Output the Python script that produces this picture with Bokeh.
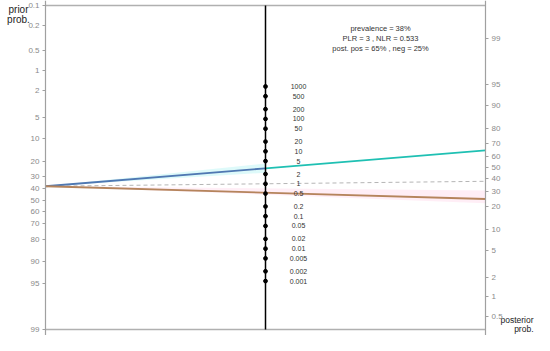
import numpy as np
from bokeh.plotting import figure
from bokeh.models import Range1d, LinearAxis, FixedTicker
from bokeh.core.properties import value
from bokeh.embed import file_html
from bokeh.resources import INLINE

# ---- data ----
prevalence = 0.38
plr = 3.0
nlr = 0.533
plr_ci = [2.2, 4.2]
nlr_ci = [0.46, 0.72]
prior_ticks = [0.1, 0.2, 0.5, 1, 2, 5, 10, 20, 30, 40, 50, 60, 70, 80, 90, 95, 99]
post_ticks = [0.5, 1, 2, 5, 10, 20, 30, 40, 50, 60, 70, 80, 90, 95, 99]
lr_ticks = [1000, 500, 200, 100, 50, 20, 10, 5, 2, 1, 0.5, 0.2, 0.1, 0.05, 0.02, 0.01, 0.005, 0.002, 0.001]
lr_labels = ["1000", "500", "200", "100", "50", "20", "10", "5", "2", "1", "0.5", "0.2", "0.1",
             "0.05", "0.02", "0.01", "0.005", "0.002", "0.001"]
prior_min, prior_max = 0.1, 99

FONT = "Liberation Sans"

def logit(p):
    p = np.asarray(p, dtype=float)
    return np.log(p / (1 - p))

c = (logit(prior_min / 100) + logit(prior_max / 100)) / 2.0
H = (logit(prior_max / 100) - logit(prior_min / 100)) / 2.0

def y_left(p_pct):
    return -logit(np.asarray(p_pct) / 100.0) + c

def y_right(p_pct):
    return logit(np.asarray(p_pct) / 100.0)

def y_mid(lr):
    return (np.log(np.asarray(lr, dtype=float)) + c) / 2.0

def post(prior, lr):
    o = prior / (1 - prior) * lr
    return o / (1 + o)

post_pos = post(prevalence, plr)
post_neg = post(prevalence, nlr)

# ---- layout (pixels) ----
W, HGT = 534, 335
X0, X1 = 45, 485          # left / right axis positions
Y0, Y1 = 5, 329           # top / bottom of the scale
kx = 1.0 / (X1 - X0)
ky = 2 * H / (Y1 - Y0)

def px_x(px):
    return (px - X0) * kx

def px_y(py):
    return H - (py - Y0) * ky

p = figure(width=W, height=HGT, output_backend="svg", toolbar_location=None,
           x_range=Range1d(px_x(0), px_x(W)), y_range=Range1d(px_y(HGT), px_y(0)),
           x_axis_type=None, y_axis_type=None,
           min_border_left=0, min_border_right=0, min_border_top=0, min_border_bottom=0)
p.grid.visible = False
p.outline_line_color = None
p.background_fill_color = "white"

yl_ticks = [round(float(v), 6) for v in y_left(prior_ticks)]
yr_ticks = [round(float(v), 6) for v in y_right(post_ticks)]

def fmt(v):
    return ("%g" % v)

laxis = LinearAxis(ticker=FixedTicker(ticks=yl_ticks), fixed_location=0,
                   major_label_overrides={t: fmt(v) for t, v in zip(yl_ticks, prior_ticks)})
raxis = LinearAxis(ticker=FixedTicker(ticks=yr_ticks), fixed_location=1,
                   major_label_overrides={t: fmt(v) for t, v in zip(yr_ticks, post_ticks)})
for ax in (laxis, raxis):
    ax.axis_line_color = "#a0a0a0"
    ax.axis_line_width = 1.2
    ax.major_tick_line_color = "#a0a0a0"
    ax.major_tick_in = 0
    ax.major_tick_out = 3
    ax.minor_tick_line_color = None
    ax.major_label_text_font = FONT
    ax.major_label_text_font_size = "8px"
    ax.major_label_text_color = "#8a8a8a"
    ax.major_label_standoff = 3
p.add_layout(laxis, "left")
p.add_layout(raxis, "right")

# frame top / bottom lines
p.segment(x0=[0, 0], y0=[H, -H], x1=[1, 1], y1=[H, -H], line_color="#b0b0b0", line_width=1.5)

yp = float(y_left(prevalence * 100))

# light bands
p.patch(x=[0, 0.5, 0.5], y=[yp, float(y_mid(plr_ci[1])), float(y_mid(plr_ci[0]))],
        fill_color="#c8f6f6", fill_alpha=0.6, line_color=None)
p.patch(x=[0, 1, 1], y=[yp, float(y_right(100 * post(prevalence, nlr_ci[1]))),
                        float(y_right(100 * post(prevalence, nlr_ci[0])))],
        fill_color="#ffe3f0", fill_alpha=0.6, line_color=None)

# LR = 1 reference line
p.line(x=[0, 1], y=[yp, float(y_right(prevalence * 100))], line_color="#b5b5b5",
       line_dash="4 3", line_width=1)

# positive & negative lines
ymp = float(y_mid(plr))
p.line(x=[0, 0.5], y=[yp, ymp], line_color="#4f78b2", line_width=1.8)
p.line(x=[0.5, 1], y=[ymp, float(y_right(post_pos * 100))], line_color="#1fc0b3", line_width=1.8)
p.line(x=[0, 1], y=[yp, float(y_right(post_neg * 100))], line_color="#b5845c", line_width=1.8)

# center LR scale
p.segment(x0=[0.5], y0=[-H], x1=[0.5], y1=[H], line_color="black", line_width=1.5)
ylr = [float(v) for v in y_mid(lr_ticks)]
p.scatter(x=[0.5] * len(lr_ticks), y=ylr, size=3.8, color="black")
p.text(x=[0.5] * len(lr_ticks), y=ylr, text=lr_labels, x_offset=33,
       text_align="center", text_baseline="middle", text_font=value(FONT),
       text_font_size="7px", text_color="#333333")

# annotation
ann = ["prevalence = %d%%" % round(prevalence * 100),
       "PLR = %g , NLR = %g" % (plr, nlr),
       "post. pos = %d%% , neg = %d%%" % (round(post_pos * 100), round(post_neg * 100))]
p.text(x=[px_x(380)] * 3, y=[px_y(v) for v in (28, 38, 48)], text=ann,
       text_align="center", text_baseline="middle",
       text_font=value(FONT), text_font_size="7.5px", text_color="#333333")

# corner titles
p.text(x=[px_x(18)] * 2, y=[px_y(9), px_y(19)], text=["prior", "prob."],
       text_align="center", text_baseline="middle", text_font=value(FONT),
       text_font_size="10px", text_color="#222222")
p.text(x=[px_x(533)] * 2, y=[px_y(Y1 - 10), px_y(Y1 - 1)], text=["posterior", "prob."],
       text_align="right", text_baseline="middle", text_font=value(FONT),
       text_font_size="8.5px", text_color="#222222")

open("out.html", "w").write(file_html(p, INLINE))
